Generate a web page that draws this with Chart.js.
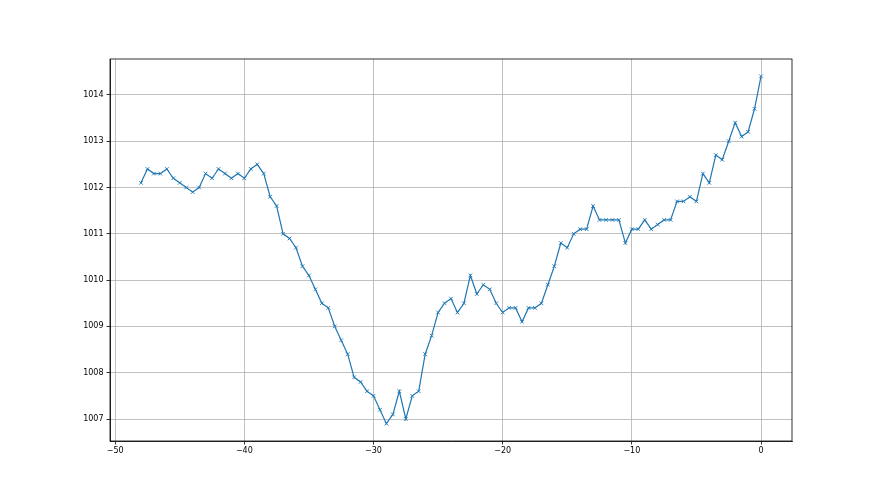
<!DOCTYPE html>
<html>
<head>
<meta charset="utf-8">
<script src="https://cdn.jsdelivr.net/npm/chart.js@4.4.1/dist/chart.umd.min.js"></script>
<style>
html,body{margin:0;padding:0;background:#fff;}
canvas{display:block;}
</style>
</head>
<body>
<canvas id="c" width="880" height="495"></canvas>
<script>
const hours = [-48,-47.5,-47,-46.5,-46,-45.5,-45,-44.5,-44,-43.5,-43,-42.5,-42,-41.5,-41,-40.5,-40,-39.5,-39,-38.5,-38,-37.5,-37,-36.5,-36,-35.5,-35,-34.5,-34,-33.5,-33,-32.5,-32,-31.5,-31,-30.5,-30,-29.5,-29,-28.5,-28,-27.5,-27,-26.5,-26,-25.5,-25,-24.5,-24,-23.5,-23,-22.5,-22,-21.5,-21,-20.5,-20,-19.5,-19,-18.5,-18,-17.5,-17,-16.5,-16,-15.5,-15,-14.5,-14,-13.5,-13,-12.5,-12,-11.5,-11,-10.5,-10,-9.5,-9,-8.5,-8,-7.5,-7,-6.5,-6,-5.5,-5,-4.5,-4,-3.5,-3,-2.5,-2,-1.5,-1,-0.5,0];
const pressure = [1012.1,1012.4,1012.3,1012.3,1012.4,1012.2,1012.1,1012.0,1011.9,1012.0,1012.3,1012.2,1012.4,1012.3,1012.2,1012.3,1012.2,1012.4,1012.5,1012.3,1011.8,1011.6,1011.0,1010.9,1010.7,1010.3,1010.1,1009.8,1009.5,1009.4,1009.0,1008.7,1008.4,1007.9,1007.8,1007.6,1007.5,1007.2,1006.9,1007.1,1007.6,1007.0,1007.5,1007.6,1008.4,1008.8,1009.3,1009.5,1009.6,1009.3,1009.5,1010.1,1009.7,1009.9,1009.8,1009.5,1009.3,1009.4,1009.4,1009.1,1009.4,1009.4,1009.5,1009.9,1010.3,1010.8,1010.7,1011.0,1011.1,1011.1,1011.6,1011.3,1011.3,1011.3,1011.3,1010.8,1011.1,1011.1,1011.3,1011.1,1011.2,1011.3,1011.3,1011.7,1011.7,1011.8,1011.7,1012.3,1012.1,1012.7,1012.6,1013.0,1013.4,1013.1,1013.2,1013.7,1014.4];
const xTicks = [-50,-40,-30,-20,-10,0];
const yTicks = [1007,1008,1009,1010,1011,1012,1013,1014];

const points = hours.map((h,i)=>({x:h,y:pressure[i]}));

Chart.defaults.font.family = "'DejaVu Sans', sans-serif";
Chart.defaults.font.size = 8;
Chart.defaults.color = '#000';

const frame = {
  id:'frame',
  afterDatasetsDraw(chart){
    const a = chart.chartArea, ctx = chart.ctx;
    ctx.save();
    ctx.strokeStyle = '#000';
    ctx.lineWidth = 0.8;
    ctx.strokeRect(a.left, a.top, a.right-a.left, a.bottom-a.top);
    ctx.restore();
  }
};

const fmt = v => (v<0 ? '\u2212' + Math.abs(v) : String(v));

new Chart(document.getElementById('c'), {
  type:'line',
  data:{datasets:[{
    data:points,
    borderColor:'#1f77b4',
    backgroundColor:'#1f77b4',
    borderWidth:1.2,
    pointStyle:'crossRot',
    pointRadius:2.6,
    pointBorderWidth:0.9,
    pointBorderColor:'#1f77b4',
    tension:0,
    fill:false
  }]},
  options:{
    responsive:false,
    animation:false,
    layout:{padding:{left:0,right:88,top:59,bottom:0}},
    plugins:{legend:{display:false},tooltip:{enabled:false}},
    scales:{
      x:{
        type:'linear',
        min:-50.4, max:2.4,
        afterBuildTicks(s){ s.ticks = xTicks.map(v=>({value:v})); },
        afterFit(s){ s.height = 54; },
        ticks:{callback:fmt, maxRotation:0, autoSkip:false, padding:2, color:'#000'},
        grid:{color:'#b0b0b0', lineWidth:0.8, tickLength:3.5, tickColor:'#000', drawTicks:true},
        border:{display:true, color:'#000', width:0.8}
      },
      y:{
        type:'linear',
        min:1006.525, max:1014.775,
        afterBuildTicks(s){ s.ticks = yTicks.map(v=>({value:v})); },
        afterFit(s){ s.width = 110; },
        ticks:{callback:v=>String(v), autoSkip:false, padding:3, color:'#000'},
        grid:{color:'#b0b0b0', lineWidth:0.8, tickLength:3.5, tickColor:'#000', drawTicks:true},
        border:{display:true, color:'#000', width:0.8}
      }
    }
  },
  plugins:[frame]
});
</script>
</body>
</html>
